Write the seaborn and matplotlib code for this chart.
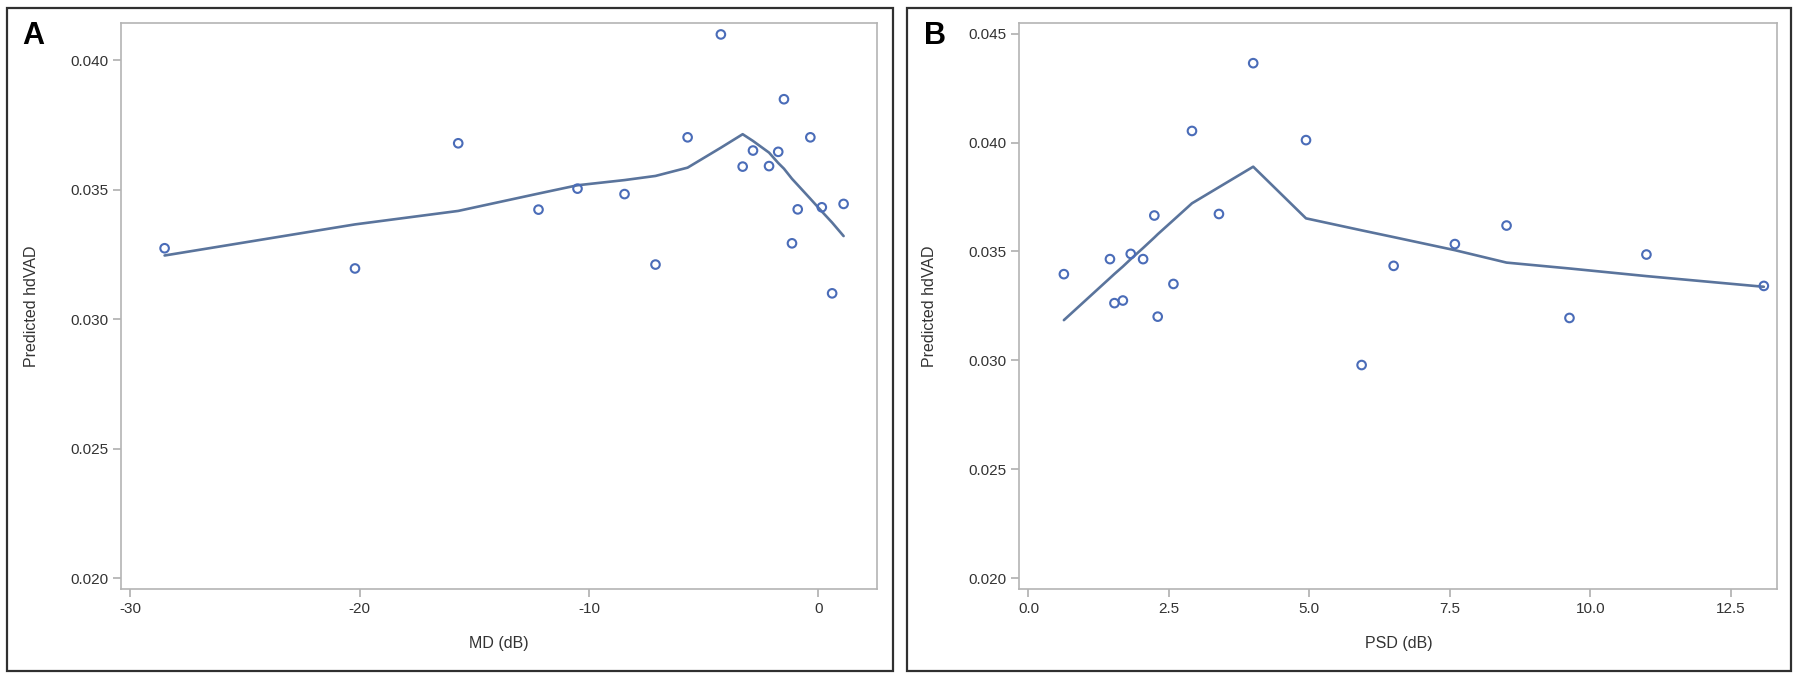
import numpy as np
import pandas as pd
import seaborn as sns
import matplotlib.pyplot as plt
from matplotlib.patches import Rectangle

# panel A: MD
md = [-28.5, -20.2, -15.7, -12.2, -10.5, -8.45, -7.1, -5.7, -4.25, -3.3,
      -2.85, -2.15, -1.75, -1.5, -1.15, -0.9, -0.35, 0.15, 0.6, 1.1]
hdvad_md = [0.03274, 0.03196, 0.03679, 0.03423, 0.03504, 0.03483, 0.03211, 0.03702, 0.04099, 0.03589,
            0.03651, 0.03591, 0.03646, 0.03849, 0.03293, 0.03424, 0.03702, 0.03432, 0.03100, 0.03445]
fit_md = [0.03246, 0.03366, 0.03418, 0.03485, 0.03517, 0.03537, 0.03553, 0.03585, 0.03662, 0.03714,
          0.03688, 0.03643, 0.03603, 0.03581, 0.03542, 0.03518, 0.03465, 0.03416, 0.03373, 0.03321]

# panel B: PSD
psd = [0.63, 1.45, 1.53, 1.68, 1.82, 2.04, 2.24, 2.30, 2.58, 2.91,
       3.39, 4.00, 4.94, 5.93, 6.50, 7.59, 8.51, 9.63, 11.0, 13.09]
hdvad_psd = [0.03396, 0.03465, 0.03263, 0.03275, 0.03489, 0.03465, 0.03665, 0.03201, 0.03351, 0.04053,
             0.03672, 0.04364, 0.04011, 0.02979, 0.03434, 0.03534, 0.03619, 0.03195, 0.03486, 0.03342]
fit_psd = [0.03185, 0.03378, 0.03397, 0.03431, 0.03465, 0.03516, 0.03564, 0.03579, 0.03644, 0.03721,
           0.03795, 0.03889, 0.03652, 0.03597, 0.03566, 0.03506, 0.03449, 0.03422, 0.03387, 0.03338]

md_ticks = [-30, -20, -10, 0]
psd_ticks = [0.0, 2.5, 5.0, 7.5, 10.0, 12.5]
yticks_a = [0.020, 0.025, 0.030, 0.035, 0.040]
yticks_b = [0.020, 0.025, 0.030, 0.035, 0.040, 0.045]

sns.set_style("white")
plt.rcParams['font.family'] = ['Liberation Sans', 'DejaVu Sans']

point_col = '#4a6cb8'
line_col = '#5a749c'
spine_col = '#b4b4b4'
text_col = '#333333'

fig = plt.figure(figsize=(18, 6.79), dpi=100)

def panel(ax, x, y, fit, xlab, xticks, yticks, xlim, ylim, fmt):
  df = pd.DataFrame({'x': x, 'y': y, 'fit': fit})
  sns.lineplot(data=df, x='x', y='fit', ax=ax, color=line_col, linewidth=1.9,
               sort=True, estimator=None)
  sns.scatterplot(data=df, x='x', y='y', ax=ax, s=38, facecolor='none',
                  edgecolor=point_col, linewidth=1.5, zorder=3)
  ax.set_xlim(*xlim)
  ax.set_ylim(*ylim)
  ax.set_xticks(xticks)
  ax.set_xticklabels([fmt(t) for t in xticks])
  ax.set_yticks(yticks)
  ax.set_yticklabels(['%.3f' % t for t in yticks])
  for s in ax.spines.values():
    s.set_color(spine_col)
    s.set_linewidth(1.2)
  ax.tick_params(axis='both', which='major', length=6, width=1.1, color='#a8a8a8',
                 labelsize=11, labelcolor=text_col, pad=3, direction='out')
  ax.tick_params(bottom=True, left=True)
  ax.set_xlabel(xlab, fontsize=11.5, color=text_col)
  ax.set_ylabel('Predicted hdVAD', fontsize=11.5, color=text_col)
  ax.xaxis.set_label_coords(0.5, -0.083)
  ax.yaxis.set_label_coords(-0.108, 0.5)

ax1 = fig.add_axes([0.0671, 0.1321, 0.4203, 0.8336])
panel(ax1, md, hdvad_md, fit_md, 'MD (dB)', md_ticks, yticks_a,
      (-30.41, 2.57), (0.01958, 0.04142), lambda t: '%d' % t)

ax2 = fig.add_axes([0.5663, 0.1321, 0.4211, 0.8336])
panel(ax2, psd, hdvad_psd, fit_psd, 'PSD (dB)', psd_ticks, yticks_b,
      (-0.163, 13.33), (0.0195, 0.04547), lambda t: '%.1f' % t)

# panel frames
for x0, w in [(6.5 / 1800, 886.5 / 1800), (907 / 1800, 884 / 1800)]:
  fig.patches.append(Rectangle((x0, 8 / 679), w, 663 / 679, transform=fig.transFigure,
                               fill=False, edgecolor='#303030', linewidth=1.6))

fig.text(22 / 1800, 1 - 36 / 679, 'A', fontsize=22, fontweight='bold', va='center', ha='left', color='black')
fig.text(924 / 1800, 1 - 36 / 679, 'B', fontsize=22, fontweight='bold', va='center', ha='left', color='black')

plt.savefig('out.png', dpi=100)
